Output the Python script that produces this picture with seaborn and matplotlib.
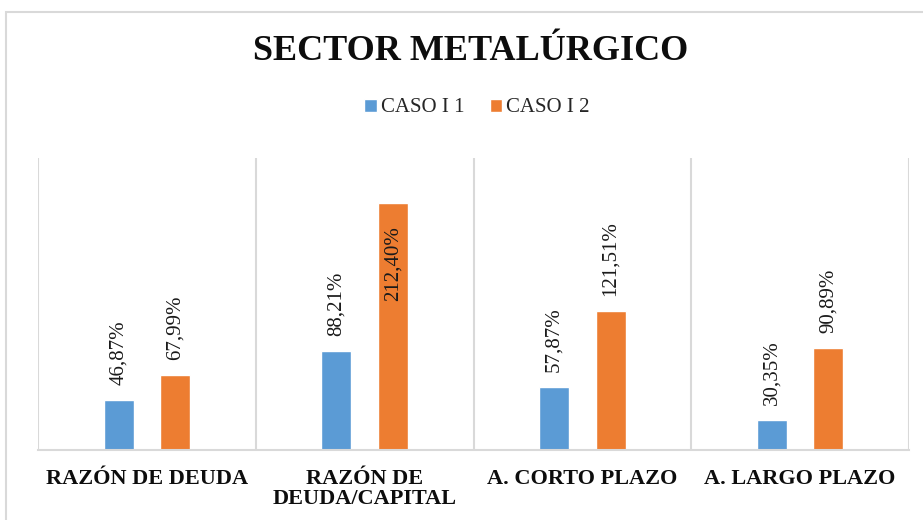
import matplotlib
matplotlib.use("Agg")
import matplotlib.pyplot as plt
import seaborn as sns
import pandas as pd
from matplotlib.patches import Rectangle
from matplotlib.ticker import MultipleLocator, NullFormatter

categories = ["RAZÓN DE DEUDA", "RAZÓN DE\nDEUDA/CAPITAL", "A. CORTO PLAZO", "A. LARGO PLAZO"]
series_names = ["CASO I 1", "CASO I 2"]
caso1 = [46.87, 88.21, 57.87, 30.35]
caso2 = [67.99, 212.40, 121.51, 90.89]
title = "SECTOR METALÚRGICO"

df = pd.DataFrame({
    "cat": categories * 2,
    "serie": [series_names[0]] * 4 + [series_names[1]] * 4,
    "val": caso1 + caso2,
})

sns.set_theme(style="white")
plt.rcParams["font.family"] = ["Liberation Serif", "DejaVu Serif"]

W, H = 923, 520
fig = plt.figure(figsize=(W / 100, H / 100), dpi=100)
ax = fig.add_axes([38 / W, 1 - 450 / H, (909 - 38) / W, (450 - 158) / H])

colors = ["#5B9BD5", "#ED7D31"]
sns.barplot(data=df, x="cat", y="val", hue="serie", order=categories,
            hue_order=series_names, palette=colors, width=0.52, gap=0.47,
            saturation=1, ax=ax, legend=True)

ax.set_ylim(5.2, 250)
ax.set_xlim(-0.5, len(categories) - 0.5)
ax.set_yticks([])
ax.set_xlabel("")
ax.set_ylabel("")
for s in ax.spines.values():
    s.set_visible(False)
ax.spines["bottom"].set_visible(True)
ax.spines["bottom"].set_color("#D9D9D9")
ax.spines["bottom"].set_linewidth(1.5)

ax.xaxis.set_minor_locator(MultipleLocator(1, offset=0.5))
ax.xaxis.set_minor_formatter(NullFormatter())
ax.grid(which="minor", axis="x", color="#D9D9D9", linewidth=1.5)
ax.tick_params(axis="x", which="both", length=0, pad=14)
for lbl in ax.get_xticklabels():
    lbl.set_fontsize(16)
    lbl.set_fontweight("bold")
    lbl.set_color("#0D0D0D")
    lbl.set_linespacing(0.95)

# value labels
for container in ax.containers:
    for bar in container:
        v = bar.get_height()
        txt = f"{v:.2f}".replace(".", ",") + "%"
        x = bar.get_x() + bar.get_width() / 2
        if v > 200:
            ax.annotate(txt, (x, v), xytext=(0, -17), textcoords="offset points",
                        rotation=90, ha="center", va="top", fontsize=15, color="#1A1A1A")
        else:
            ax.annotate(txt, (x, v), xytext=(0, 11), textcoords="offset points",
                        rotation=90, ha="center", va="bottom", fontsize=15, color="#1A1A1A")

handles, labels = ax.get_legend_handles_labels()
ax.get_legend().remove()
fig.legend(handles, labels, loc="center", bbox_to_anchor=(477 / W, 1 - 108 / H),
           ncol=2, frameon=False, fontsize=15, handlelength=0.6, handleheight=0.6,
           handletextpad=0.2, columnspacing=1.2)

fig.text(471 / W, 1 - 51 / H, title, ha="center", va="center", fontsize=26,
         fontweight="bold", color="#0D0D0D")

fig.patches.append(Rectangle((6 / W, -0.01), 1.02, 1 - 12 / H + 0.01, transform=fig.transFigure,
                             fill=False, edgecolor="#D9D9D9", linewidth=1.5))

fig.savefig("out.png", dpi=100, facecolor="white")
